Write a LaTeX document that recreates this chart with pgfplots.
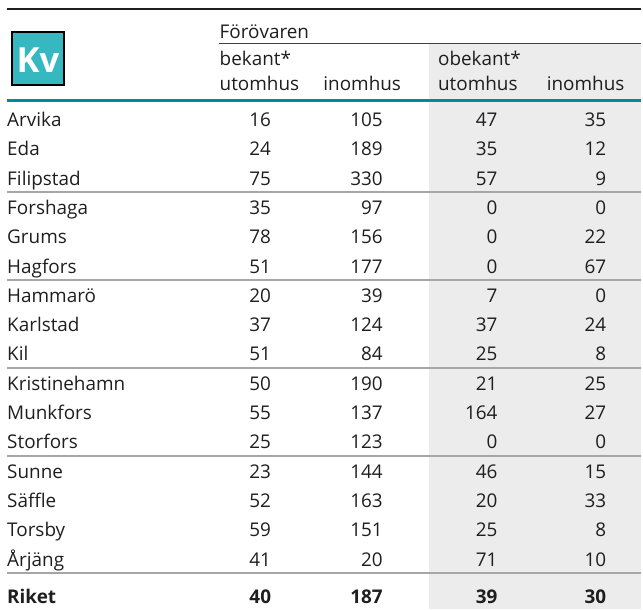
\documentclass[border=0pt]{standalone}
\usepackage{fontspec}
\setmainfont{Open Sans}
\usepackage{pgfplots}
\usepackage{pgfplotstable}
\pgfplotsset{compat=1.18}

\definecolor{kvteal}{HTML}{008B94}
\definecolor{kvlogo}{HTML}{35B8C0}
\definecolor{obgray}{HTML}{ECECEC}
\definecolor{rulegray}{HTML}{A6A6A6}
\definecolor{ink}{HTML}{1E1E1E}

% y = baseline of each row, in pixels from the top
\pgfplotstableread{
name y ut in out oin
Arvika 126.7 16 105 47 35
Eda 156.1 24 189 35 12
Filipstad 185.5 75 330 57 9
Forshaga 214.9 35 97 0 0
Grums 244.3 78 156 0 22
Hagfors 273.7 51 177 0 67
Hammarö 303.1 20 39 7 0
Karlstad 332.5 37 124 37 24
Kil 361.9 51 84 25 8
Kristinehamn 391.3 50 190 21 25
Munkfors 420.7 55 137 164 27
Storfors 450.1 25 123 0 0
Sunne 479.5 23 144 46 15
Säffle 508.9 52 163 20 33
Torsby 538.3 59 151 25 8
Årjäng 567.7 41 20 71 10
}\kommuner

\pgfplotstableread{
name y ut in out oin
Riket 605 40 187 39 30
}\riket

\pgfplotsset{
  cell/.style={only marks, mark=none, nodes near coords,
    point meta=explicit symbolic,
    every node near coord/.append style={anchor=base east, inner sep=0pt,
      font=\fontsize{14.2}{16}\selectfont, text=ink}},
  namecell/.style={cell,
    every node near coord/.append style={anchor=base west}},
  bold/.style={every node near coord/.append style={font=\fontsize{14.2}{16}\selectfont\bfseries}},
}

\begin{document}
\begin{tikzpicture}
\begin{axis}[
  x=0.75pt, y=0.75pt, y dir=reverse,
  xmin=0, xmax=643, ymin=0, ymax=611,
  hide axis, clip=false,
]
\path (axis cs:0,0) rectangle (axis cs:643,611);
% grey block behind "obekant"
\fill[obgray] (axis cs:430,44) rectangle (axis cs:643,611);

% rules
\draw[ink, line width=1.2pt] (axis cs:7,9) -- (axis cs:643,9);
\draw[ink!85, line width=0.9pt] (axis cs:220,43.4) -- (axis cs:643,43.4);
\draw[kvteal, line width=2.5pt] (axis cs:7,100.7) -- (axis cs:643,100.7);
\pgfplotsinvokeforeach{192.7,280.9,369.1,457.3,574.5}{
  \draw[rulegray, line width=1.1pt] (axis cs:7,#1) -- (axis cs:643,#1);
}

% Kv logo
\filldraw[fill=kvlogo, draw=black, line width=1.6pt]
  (axis cs:12,32) rectangle (axis cs:64,85);
\node[anchor=base, inner sep=0pt, text=white,
  font=\fontsize{26}{28}\selectfont\bfseries] at (axis cs:38,72.5) {Kv};

% header
\begin{scope}[every node/.style={anchor=base west, inner sep=0pt,
    font=\fontsize{14.2}{16}\selectfont, text=ink}]
\node at (axis cs:220,39) {Förövaren};
\node at (axis cs:220,66) {bekant*};
\node at (axis cs:439,66) {obekant*};
\node at (axis cs:220,91) {utomhus};
\node at (axis cs:324,91) {inomhus};
\node at (axis cs:439,91) {utomhus};
\node at (axis cs:548,91) {inomhus};
\end{scope}

% municipalities
\addplot[namecell] table[x expr=7, y=y, meta=name] {\kommuner};
\addplot[cell] table[x expr=272, y=y, meta=ut] {\kommuner};
\addplot[cell] table[x expr=384, y=y, meta=in] {\kommuner};
\addplot[cell] table[x expr=499, y=y, meta=out] {\kommuner};
\addplot[cell] table[x expr=608, y=y, meta=oin] {\kommuner};

% national total, bold
\addplot[namecell, bold] table[x expr=7, y=y, meta=name] {\riket};
\addplot[cell, bold] table[x expr=272, y=y, meta=ut] {\riket};
\addplot[cell, bold] table[x expr=384, y=y, meta=in] {\riket};
\addplot[cell, bold] table[x expr=499, y=y, meta=out] {\riket};
\addplot[cell, bold] table[x expr=608, y=y, meta=oin] {\riket};
\end{axis}
\end{tikzpicture}
\end{document}
